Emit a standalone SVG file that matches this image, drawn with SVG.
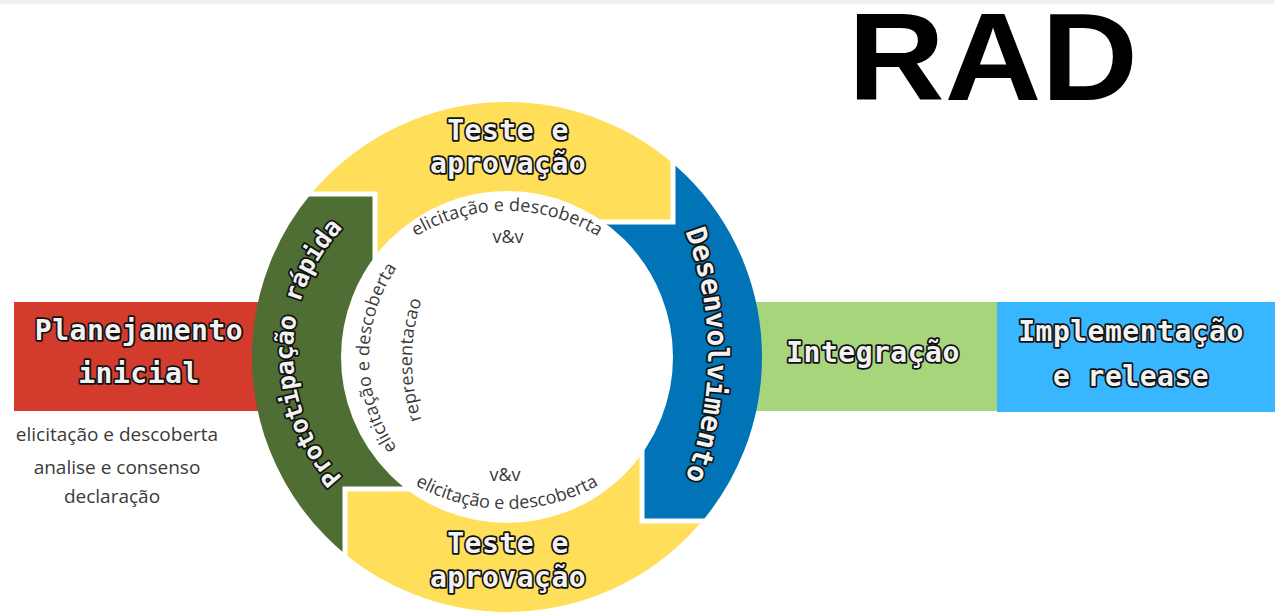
<svg xmlns="http://www.w3.org/2000/svg" width="1275" height="615" viewBox="0 0 1275 615">
  <defs>
    <style>
      .lbl { font-family: "DejaVu Sans Mono", "Liberation Mono", monospace; font-weight: bold; font-size: 28px; fill: #f2f2f2; stroke: #111; stroke-width: 3.5; paint-order: stroke; stroke-linejoin: round; letter-spacing: 0.5px; text-anchor: middle; }
      .sm { font-family: "Open Sans", "Liberation Sans", sans-serif; font-size: 18px; fill: #3a3a3a; }
      .note { font-family: "Open Sans", "Liberation Sans", sans-serif; font-size: 19px; fill: #3a3a3a; text-anchor: middle; }
      .ring { fill: none; stroke-width: 89; }
      .gap { fill: none; stroke: #ffffff; stroke-width: 5; }
    </style>
    <clipPath id="cGreen"><polygon points="0,194 375,194 375,357 420,357 420,489 345,489 345,615 0,615"/></clipPath>
    <clipPath id="cYellowTop"><polygon points="0,0 673,0 673,222 560,222 560,300 375,300 375,194 0,194"/></clipPath>
    <clipPath id="cBlue"><polygon points="673,0 1275,0 1275,521 642,521 642,400 560,400 560,222 673,222"/></clipPath>
    <clipPath id="cYellowBot"><polygon points="345,615 345,489 420,489 420,400 642,400 642,521 1275,521 1275,615"/></clipPath>
    <path id="pTop" d="M394.5,251.9 A175,175 0 0 1 619.5,251.9"/>
    <path id="pBot" d="M399.2,475 A188,188 0 0 0 614.8,475"/>
    <path id="pLeft1" d="M406.4,460.8 A160,160 0 0 1 406.4,255.2"/>
    <path id="pLeft2" d="M429.8,440.3 A190,190 0 0 1 429.8,279.7"/>
    <path id="pDes" d="M606.4,109.6 A347,347 0 0 1 606.4,600.4"/>
    <path id="pProto" d="M358,492.4 A182,182 0 0 1 358,213.6"/>
  </defs>

  <rect x="0" y="0" width="1275" height="615" fill="#ffffff"/>
  <rect x="0" y="0" width="1275" height="4" fill="#f1f1f1"/>

  <g id="planejamento">
    <rect x="14" y="302" width="310" height="109" fill="#D33B2D"/>
  </g>
  <g id="integracao">
    <rect x="700" y="302" width="297" height="109" fill="#A7D57C"/>
    <text class="lbl" x="873" y="362">Integração</text>
  </g>
  <g id="implementacao">
    <rect x="997" y="302" width="278" height="110" fill="#38B6FF"/>
    <text class="lbl" x="1131" y="341">Implementação</text>
    <text class="lbl" x="1131" y="386">e release</text>
  </g>

  <g id="ciclo">
    <circle class="ring" cx="507" cy="357" r="210.5" stroke="#4E6E33" clip-path="url(#cGreen)"/>
    <circle class="ring" cx="507" cy="357" r="210.5" stroke="#FFDE59" clip-path="url(#cYellowTop)"/>
    <circle class="ring" cx="507" cy="357" r="210.5" stroke="#0074B7" clip-path="url(#cBlue)"/>
    <circle class="ring" cx="507" cy="357" r="210.5" stroke="#FFDE59" clip-path="url(#cYellowBot)"/>
    <polyline class="gap" points="290,194 375,194 375,270"/>
    <polyline class="gap" points="673,150 673,222 590,222"/>
    <polyline class="gap" points="642,440 642,521 720,521"/>
    <polyline class="gap" points="345,570 345,489 420,489"/>
  </g>

  <g id="planejamento-texto">
    <text class="lbl" x="139" y="340">Planejamento</text>
    <text class="lbl" x="139" y="383">inicial</text>
    <text class="note" x="117" y="441">elicitação e descoberta</text>
    <text class="note" x="117" y="474">analise e consenso</text>
    <text class="note" x="112" y="503">declaração</text>
  </g>

  <g id="teste-topo">
    <text class="lbl" x="508" y="140">Teste e</text>
    <text class="lbl" x="508" y="173">aprovação</text>
    <text class="sm"><textPath href="#pTop" startOffset="50%" text-anchor="middle">elicitação e descoberta</textPath></text>
    <text class="sm" x="508" y="243" text-anchor="middle">v&amp;v</text>
  </g>

  <g id="desenvolvimento">
    <text class="lbl" style="letter-spacing:0px"><textPath href="#pDes" startOffset="50%">Desenvolvimento</textPath></text>
  </g>

  <g id="teste-base">
    <text class="lbl" x="508" y="553">Teste e</text>
    <text class="lbl" x="508" y="587">aprovação</text>
    <text class="sm" x="505" y="481" text-anchor="middle">v&amp;v</text>
    <text class="sm"><textPath href="#pBot" startOffset="50%" text-anchor="middle">elicitação e descoberta</textPath></text>
  </g>

  <g id="prototipacao">
    <text class="lbl" style="font-size:25px;letter-spacing:-0.6px"><textPath href="#pProto" startOffset="50%">Prototipação rápida</textPath></text>
    <text class="sm"><textPath href="#pLeft1" startOffset="50%" text-anchor="middle">elicitação e descoberta</textPath></text>
    <text class="sm"><textPath href="#pLeft2" startOffset="50%" text-anchor="middle">representacao</textPath></text>
  </g>

  <g id="titulo">
    <text x="848" y="100" font-family="'Liberation Sans', Arial, sans-serif" font-weight="bold" font-size="125" fill="#000" textLength="290" lengthAdjust="spacingAndGlyphs">RAD</text>
  </g>
</svg>
